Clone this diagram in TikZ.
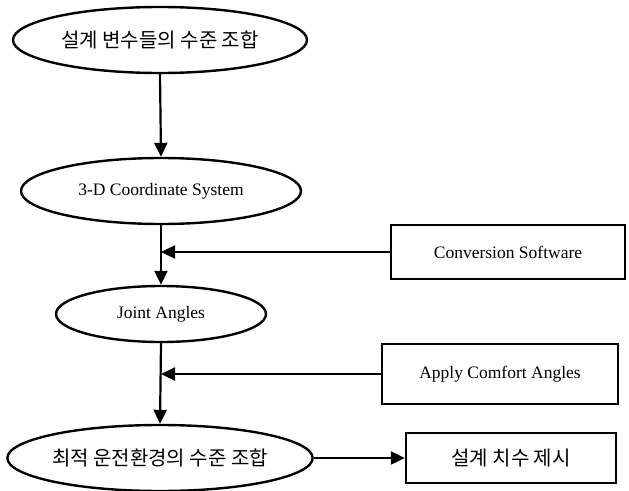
\documentclass[tikz,border=0pt]{standalone}
\usepackage{fontspec}
\setmainfont{Liberation Serif}
\newfontfamily\kor{Noto Sans CJK KR}
\usetikzlibrary{shapes.geometric,arrows.meta}

\begin{document}
\begin{tikzpicture}[x=1pt, y=-1pt,
    oval/.style={draw, ellipse, line width=2.4pt, inner sep=0pt,
        font=\fontsize{17.5}{20}\selectfont},
    box/.style={draw, rectangle, line width=2.4pt, inner sep=0pt,
        font=\fontsize{17.5}{20}\selectfont},
    kortext/.style={font=\kor\fontsize{20}{22}\selectfont},
    link/.style={line width=2.2pt, -{Triangle[length=14pt, width=13pt]}}]
    \useasboundingbox (0,0) rectangle (629,490);
    % left column
    \node [oval, kortext, minimum width=294pt, minimum height=66pt] (levels) at (160, 40) {설계 변수들의 수준 조합};
    \node [oval, minimum width=280pt, minimum height=66pt] (coord) at (161, 191) {3-D Coordinate System};
    \node [oval, minimum width=210pt, minimum height=56pt] (joint) at (161, 314) {Joint Angles};
    \node [oval, kortext, minimum width=292pt, minimum height=66pt] (optimum) at (160, 458) {최적 운전환경의 수준 조합};
    % right column
    \node [box, minimum width=234pt, minimum height=54pt] (convert) at (508, 252) {Conversion Software};
    \node [box, minimum width=236pt, minimum height=60pt] (comfort) at (500, 374) {Apply Comfort Angles};
    \node [box, minimum width=210pt, minimum height=50pt, kortext] (result) at (511, 458) {설계 치수 제시};
    % connectors
    \coordinate (meet1) at (coord.south |- convert.west);
    \coordinate (meet2) at (joint.south |- comfort.west);
    \draw [link] (levels.south) -- (coord.north);
    \draw [link] (coord.south) -- (joint.north);
    \draw [link] (convert.west) -- (meet1);
    \draw [link] (joint.south) -- (optimum.north);
    \draw [link] (comfort.west) -- (meet2);
    \draw [link] (optimum.east) -- (result.west);
\end{tikzpicture}
\end{document}
